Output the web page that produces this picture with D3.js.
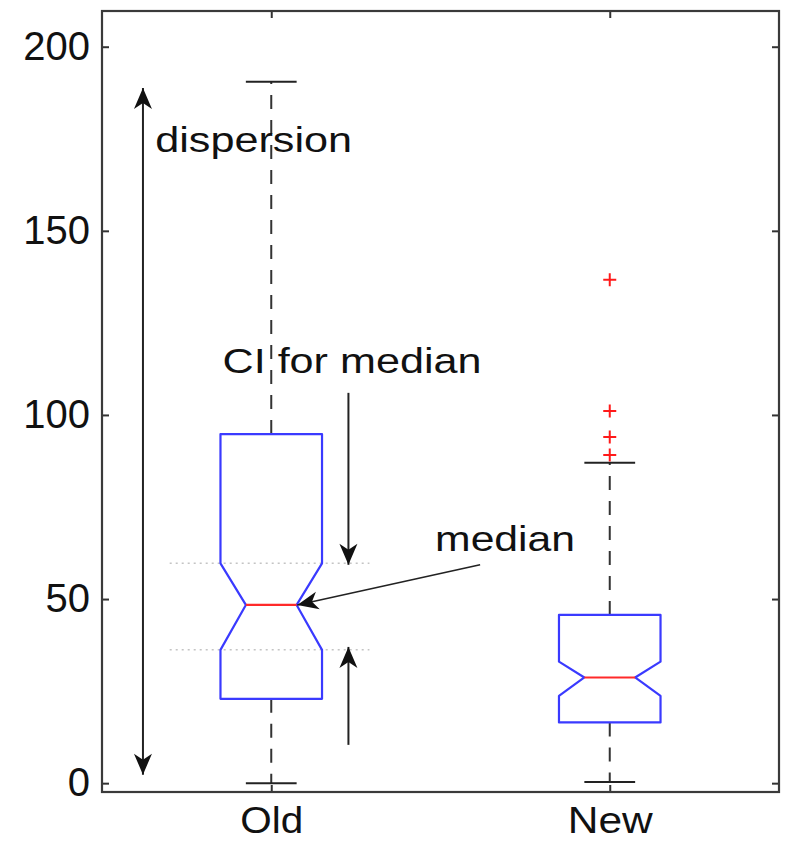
<!DOCTYPE html>
<html>
<head>
<meta charset="utf-8">
<script src="https://cdn.jsdelivr.net/npm/d3@7"></script>
<style>
  body { margin: 0; background: #fff; }
  text { font-family: "Liberation Sans", Arial, sans-serif; }
</style>
</head>
<body>
<div id="chart"></div>
<script>
// box plot values
const groups = ['Old', 'New'];
const whiskerLo = [0, 0.3];
const q1 = [22.9, 16.5];
const notchLo = [36.2, 23.7];
const medians = [48.4, 28.7];
const notchHi = [59.7, 33.0];
const q3 = [94.8, 45.7];
const whiskerHi = [190.5, 87.0];
const outliers = [[], [136.7, 101.1, 94.0, 89.1]];
const yTicks = [0, 50, 100, 150, 200];

const svgWidth = 787;
const svgHeight = 841;
const margin = { top: 11, right: 8, bottom: 49, left: 102 };
const chartWidth = svgWidth - margin.left - margin.right;
const chartHeight = svgHeight - margin.top - margin.bottom;

const svg = d3.select('#chart')
  .append('svg')
  .attr('width', svgWidth)
  .attr('height', svgHeight);

const defs = svg.append('defs');
defs.append('marker')
  .attr('id', 'head')
  .attr('markerUnits', 'userSpaceOnUse')
  .attr('viewBox', '-22 -10 24 20')
  .attr('refX', 0)
  .attr('refY', 0)
  .attr('markerWidth', 24)
  .attr('markerHeight', 20)
  .attr('orient', 'auto')
  .append('path')
  .attr('d', 'M0,0 L-21,-9 L-15,0 L-21,9 Z')
  .attr('fill', '#111');

// marker-start needs the reverse direction
defs.append('marker')
  .attr('id', 'headStart')
  .attr('markerUnits', 'userSpaceOnUse')
  .attr('viewBox', '-22 -10 24 20')
  .attr('markerWidth', 24)
  .attr('markerHeight', 20)
  .attr('orient', 'auto-start-reverse')
  .append('path')
  .attr('d', 'M0,0 L-21,-9 L-15,0 L-21,9 Z')
  .attr('fill', '#111');

const chartGroup = svg.append('g')
  .attr('transform', `translate(${margin.left}, ${margin.top})`);

// scales
const x = d3.scalePoint().domain(groups).range([0, chartWidth]).padding(0.5);
const xPos = d3.scaleLinear().domain([0.5, 2.5]).range([0, chartWidth]);
const y = d3.scaleLinear().domain([-2.4, 209.7]).range([chartHeight, 0]);

const boxHalf = x.step() * 0.15;
const notchHalf = x.step() * 0.075;
const capHalf = x.step() * 0.075;

// axes, ticks inside, on all four sides
const yAxis = chartGroup.append('g')
  .call(d3.axisLeft(y).tickValues(yTicks).tickSize(-7).tickPadding(12));
yAxis.selectAll('text').attr('font-size', 40).attr('fill', '#111');

chartGroup.append('g')
  .attr('transform', `translate(${chartWidth}, 0)`)
  .call(d3.axisRight(y).tickValues(yTicks).tickSize(-7).tickFormat(''));

const xAxis = chartGroup.append('g')
  .attr('transform', `translate(0, ${chartHeight})`)
  .call(d3.axisBottom(x).tickSize(-7));
xAxis.selectAll('text')
  .attr('font-size', 37)
  .attr('fill', '#111')
  .attr('y', 41)
  .attr('dy', 0)
  .attr('textLength', d => d === 'Old' ? 63 : 85)
  .attr('lengthAdjust', 'spacingAndGlyphs');

chartGroup.append('g')
  .call(d3.axisTop(x).tickSize(-7).tickFormat(''));

chartGroup.selectAll('.domain').remove();
chartGroup.selectAll('.tick line').attr('stroke', '#333').attr('stroke-width', 2);

chartGroup.append('rect')
  .attr('width', chartWidth)
  .attr('height', chartHeight)
  .attr('fill', 'none')
  .attr('stroke', '#3a3a3a')
  .attr('stroke-width', 2.2);

// CI dotted guide lines for the Old box
[notchHi[0], notchLo[0]].forEach(v => {
  chartGroup.append('line')
    .attr('x1', xPos(0.70)).attr('x2', xPos(1.29))
    .attr('y1', y(v)).attr('y2', y(v))
    .attr('stroke', '#c4c4c4')
    .attr('stroke-width', 1.5)
    .attr('stroke-dasharray', '2,4');
});

const boxes = groups.map((g, i) => ({ g, i }));

// whiskers
boxes.forEach(({ g, i }) => {
  const cx = x(g);
  [[q3[i], whiskerHi[i]], [q1[i], whiskerLo[i]]].forEach(([a, b]) => {
    chartGroup.append('line')
      .attr('x1', cx).attr('x2', cx)
      .attr('y1', y(a)).attr('y2', y(b))
      .attr('stroke', '#333')
      .attr('stroke-width', 2)
      .attr('stroke-dasharray', '14,11');
  });
  [whiskerHi[i], whiskerLo[i]].forEach(v => {
    chartGroup.append('line')
      .attr('x1', cx - capHalf).attr('x2', cx + capHalf)
      .attr('y1', y(v)).attr('y2', y(v))
      .attr('stroke', '#222')
      .attr('stroke-width', 2);
  });
});

// notched boxes
chartGroup.selectAll('.box')
  .data(boxes)
  .enter()
  .append('path')
  .attr('class', 'box')
  .attr('d', ({ g, i }) => {
    const cx = x(g);
    const pts = [
      [cx - boxHalf, y(q3[i])], [cx + boxHalf, y(q3[i])],
      [cx + boxHalf, y(notchHi[i])], [cx + notchHalf, y(medians[i])],
      [cx + boxHalf, y(notchLo[i])], [cx + boxHalf, y(q1[i])],
      [cx - boxHalf, y(q1[i])], [cx - boxHalf, y(notchLo[i])],
      [cx - notchHalf, y(medians[i])], [cx - boxHalf, y(notchHi[i])]
    ];
    return 'M' + pts.map(p => p.join(',')).join('L') + 'Z';
  })
  .attr('fill', 'none')
  .attr('stroke', '#3a3aff')
  .attr('stroke-width', 2.2)
  .attr('stroke-linejoin', 'round');

chartGroup.selectAll('.median')
  .data(boxes)
  .enter()
  .append('line')
  .attr('class', 'median')
  .attr('x1', d => x(d.g) - notchHalf)
  .attr('x2', d => x(d.g) + notchHalf)
  .attr('y1', d => y(medians[d.i]))
  .attr('y2', d => y(medians[d.i]))
  .attr('stroke', '#ff2a2a')
  .attr('stroke-width', 2.2);

// outliers as red plus signs
boxes.forEach(({ g, i }) => {
  outliers[i].forEach(v => {
    chartGroup.append('path')
      .attr('d', `M${x(g) - 6.5},${y(v)}h13M${x(g)},${y(v) - 6.5}v13`)
      .attr('stroke', '#ff1a1a')
      .attr('stroke-width', 2);
  });
});

// annotations
function arrow(x1, v1, x2, v2) {
  return chartGroup.append('line')
    .attr('x1', xPos(x1)).attr('y1', y(v1))
    .attr('x2', xPos(x2)).attr('y2', y(v2))
    .attr('stroke', '#222')
    .attr('stroke-width', 2)
    .attr('marker-end', 'url(#head)');
}

arrow(0.621, 2.3, 0.621, 188.8).attr('marker-start', 'url(#headStart)');
arrow(1.228, 106.0, 1.228, 59.3);
arrow(1.228, 10.4, 1.228, 37.0);
arrow(1.617, 59.3, 1.077, 48.4).attr('stroke-width', 1.6);

const notes = [
  { text: 'dispersion', x: 0.657, v: 171.5, w: 197 },
  { text: 'CI for median', x: 0.856, v: 111.4, w: 259 },
  { text: 'median', x: 1.484, v: 63.0, w: 140 }
];
chartGroup.selectAll('.note')
  .data(notes)
  .enter()
  .append('text')
  .attr('class', 'note')
  .attr('x', d => xPos(d.x))
  .attr('y', d => y(d.v))
  .attr('font-size', 35)
  .attr('fill', '#111')
  .attr('textLength', d => d.w)
  .attr('lengthAdjust', 'spacingAndGlyphs')
  .text(d => d.text);
</script>
</body>
</html>
